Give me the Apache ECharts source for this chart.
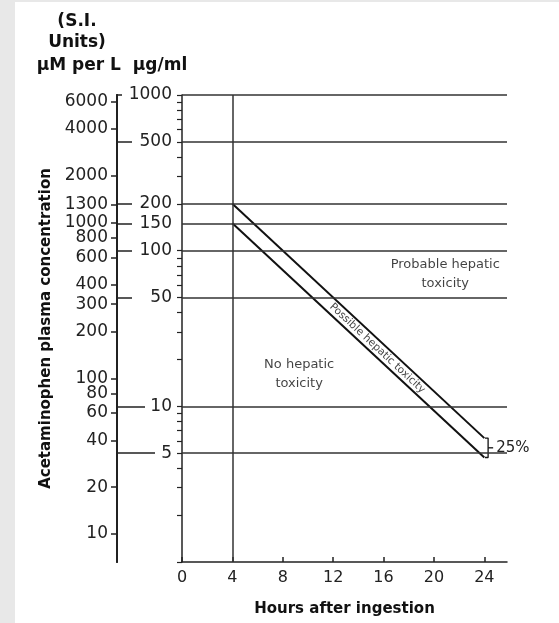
<!DOCTYPE html>
<html>
<head>
<meta charset="utf-8">
<script src="https://cdn.jsdelivr.net/npm/echarts@6/dist/echarts.min.js"></script>
<style>
html,body{margin:0;padding:0;background:#fff;}
#chart{width:559px;height:623px;}
</style>
</head>
<body>
<div id="chart"></div>
<script>
// ---- data ----
const hours = [4, 24];
const probableLine = [200, 6.25];   // µg/ml, 200 line
const possibleLine = [150, 4.69];   // µg/ml, 150 line
const gridValues = [1000, 500, 200, 150, 100, 50, 10, 5];       // µg/ml reference lines
const umolTickLabels = [6000, 4000, 2000, 1300, 1000, 800, 600, 400, 300, 200, 100, 80, 60, 40, 20, 10];
const hourTicks = [0, 4, 8, 12, 16, 20, 24];
const minorTicks = [1,2,3,4,5,6,7,8,9,10,20,30,40,50,60,70,80,90,100,200,300,400,500,600,700,800,900,1000];
const regionTexts = ['Probable hepatic\ntoxicity', 'No hepatic\ntoxicity'];
const bandText = 'Possible hepatic toxicity';
const bracketText = '25%';

const MW = 151.16;                 // acetaminophen molar mass
const UM_PER_UG = 1000 / MW;       // µg/ml -> µmol/L

const FONT = 'DejaVu Sans';
const plain = v => String(Math.round(v));
const chart = echarts.init(document.getElementById('chart'), null, {renderer: 'canvas'});

const gridLeft = 182, gridTop = 95, gridRight = 52, gridBottom = 61;

// connector ticks from the µM scale to the µg/ml labels (length differs per label width)
function connectorAxis(values, len) {
  return {
    type: 'log', logBase: 10, min: 1, max: 1000, position: 'left', offset: 65,
    axisLine: {show: true, onZero: false, lineStyle: {color: '#222', width: 1.5}},
    axisTick: {show: true, inside: true, length: len, customValues: values, lineStyle: {color: '#222', width: 1.5}},
    axisLabel: {show: false}, splitLine: {show: false}
  };
}

const option = {
  backgroundColor: '#ffffff',
  animation: false,
  grid: {left: gridLeft, top: gridTop, right: gridRight, bottom: gridBottom, containLabel: false},
  xAxis: {
    type: 'value', min: 0, max: 25.8,
    name: 'Hours after ingestion', nameLocation: 'middle', nameGap: 40,
    nameTextStyle: {fontFamily: FONT, fontWeight: 'bold', fontSize: 15, color: '#111'},
    axisLine: {show: true, lineStyle: {color: '#222', width: 1.5}},
    axisTick: {show: true, inside: true, length: 5, customValues: hourTicks, lineStyle: {color: '#222', width: 1.5}},
    axisLabel: {customValues: hourTicks, fontFamily: FONT, fontSize: 16, color: '#222', margin: 8},
    splitLine: {show: false}
  },
  yAxis: [
    { // main µg/ml axis at 0 h with minor ticks
      type: 'log', logBase: 10, min: 1, max: 1000, position: 'left', offset: 0,
      axisLine: {show: true, onZero: false, lineStyle: {color: '#222', width: 1.5}},
      axisTick: {show: true, inside: false, length: 5, customValues: minorTicks, lineStyle: {color: '#222', width: 1.2}},
      axisLabel: {show: false},
      splitLine: {show: false}
    },
    { // µg/ml labels between the two scales
      type: 'log', logBase: 10, min: 1, max: 1000, position: 'left', offset: 65,
      axisLine: {show: true, onZero: false, lineStyle: {color: '#222', width: 1.5}},
      axisTick: {show: true, inside: true, length: 15, customValues: gridValues.slice(1, 6), lineStyle: {color: '#222', width: 1.5}},
      axisLabel: {show: true, inside: true, align: 'right', margin: 55, customValues: gridValues, formatter: plain,
                  fontFamily: FONT, fontSize: 17, color: '#222'},
      splitLine: {show: false}
    },
    { // µmol/L scale
      type: 'log', logBase: 10, min: 1 * UM_PER_UG, max: 1000 * UM_PER_UG, position: 'left', offset: 65,
      name: 'Acetaminophen plasma concentration', nameLocation: 'middle', nameGap: 60, nameRotate: 90,
      nameTextStyle: {fontFamily: FONT, fontWeight: 'bold', fontSize: 15, color: '#111'},
      axisLine: {show: true, onZero: false, lineStyle: {color: '#222', width: 1.5}},
      axisTick: {show: true, inside: false, length: 6, customValues: umolTickLabels, lineStyle: {color: '#222', width: 1.5}},
      axisLabel: {show: true, customValues: umolTickLabels, formatter: plain, margin: 9, fontFamily: FONT, fontSize: 17, color: '#222'},
      splitLine: {show: false}
    },
    connectorAxis([gridValues[0]], 5),
    connectorAxis([gridValues[6]], 28),
    connectorAxis([gridValues[7]], 38)
  ],
  graphic: [
    {type: 'rect', left: 0, top: 0, z: -10, shape: {width: 15, height: 623}, style: {fill: '#e8e8e8'}},
    {type: 'rect', left: 0, top: 0, z: -10, shape: {width: 559, height: 2}, style: {fill: '#e8e8e8'}},
    {type: 'text', x: 77, y: 22, style: {text: '(S.I.', font: 'bold 17px ' + FONT, fill: '#111', textAlign: 'center', textVerticalAlign: 'middle'}},
    {type: 'text', x: 77, y: 43, style: {text: 'Units)', font: 'bold 17px ' + FONT, fill: '#111', textAlign: 'center', textVerticalAlign: 'middle'}},
    {type: 'text', x: 112, y: 66, style: {text: 'µM per L  µg/ml', font: 'bold 17px ' + FONT, fill: '#111', textAlign: 'center', textVerticalAlign: 'middle'}}
  ],
  series: [
    {
      type: 'line', name: 'probable', data: hours.map((h, i) => [h, probableLine[i]]),
      symbol: 'none', silent: true, lineStyle: {color: '#111', width: 2},
      markLine: {
        silent: true, symbol: ['none', 'none'], label: {show: false},
        lineStyle: {color: '#333', width: 1.5, type: 'solid'},
        data: gridValues.map(v => ({yAxis: v})).concat([{xAxis: hours[0]}])
      }
    },
    {
      type: 'line', name: 'possible', data: hours.map((h, i) => [h, possibleLine[i]]),
      symbol: 'none', silent: true, lineStyle: {color: '#111', width: 2}
    },
    {
      type: 'line', name: 'bracket', silent: true, symbol: 'none', clip: false,
      lineStyle: {color: '#111', width: 1.3},
      data: [[hours[1] + 0.05, probableLine[1]], [hours[1] + 0.3, probableLine[1]],
             [hours[1] + 0.3, possibleLine[1]], [hours[1] + 0.05, possibleLine[1]]]
    },
    {
      type: 'line', name: 'bracketTick', silent: true, symbol: 'none', clip: false,
      lineStyle: {color: '#111', width: 1.3},
      data: [[hours[1] + 0.3, Math.sqrt(probableLine[1] * possibleLine[1])],
             [hours[1] + 0.7, Math.sqrt(probableLine[1] * possibleLine[1])]],
      endLabel: {show: true, formatter: bracketText, distance: 3, fontFamily: FONT, fontSize: 15, color: '#222'}
    },
    {
      type: 'scatter', name: 'labels', silent: true, symbolSize: 0, clip: false,
      label: {show: true, position: 'inside', fontFamily: FONT, fontSize: 13, color: '#111', lineHeight: 19, align: 'center'},
      data: [
        {value: [20.9, 71], label: {formatter: regionTexts[0]}},
        {value: [9.3, 16.1], label: {formatter: regionTexts[1]}},
        {value: [15.5, 23.6], label: {formatter: bandText, rotate: -43, fontSize: 10.5}}
      ]
    }
  ]
};
chart.setOption(option);
</script>
</body>
</html>
